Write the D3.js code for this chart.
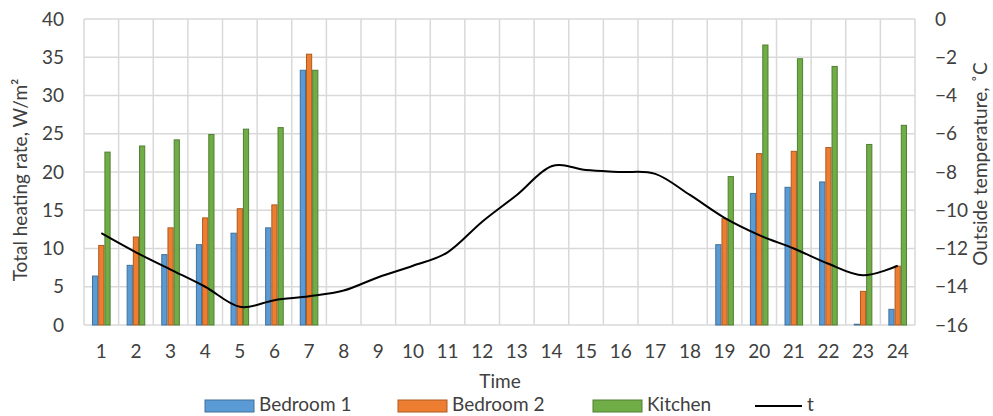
<!DOCTYPE html>
<html><head><meta charset="utf-8">
<script src="https://cdn.jsdelivr.net/npm/d3@7"></script>
<style>
body{margin:0;background:#fff;}
text{font-family:Lato,"Open Sans",sans-serif;fill:#404040;}
</style></head>
<body><svg id="c" width="993" height="416"></svg>
<script>
const hours = d3.range(1,25).map(String);
const bedroom1 = [6.4,7.8,9.2,10.5,12.0,12.7,33.3,0,0,0,0,0,0,0,0,0,0,0,10.5,17.2,18.0,18.7,0.1,2.05];
const bedroom2 = [10.4,11.5,12.7,14.0,15.2,15.7,35.4,0,0,0,0,0,0,0,0,0,0,0,13.9,22.4,22.7,23.2,4.4,7.7];
const kitchen  = [22.6,23.4,24.2,24.9,25.6,25.8,33.3,0,0,0,0,0,0,0,0,0,0,0,19.4,36.6,34.8,33.8,23.6,26.1];
const tOut = [-11.2,-12.2,-13.1,-14.0,-15.05,-14.7,-14.5,-14.2,-13.5,-12.9,-12.2,-10.6,-9.2,-7.7,-7.9,-8.0,-8.1,-9.2,-10.4,-11.3,-12.0,-12.8,-13.4,-12.9];
const leftTicks = [0,5,10,15,20,25,30,35,40];
const rightTicks = [0,-2,-4,-6,-8,-10,-12,-14,-16];
const seriesNames = ["Bedroom 1","Bedroom 2","Kitchen"];
const seriesData = [bedroom1,bedroom2,kitchen];
const fills = ["#5b9bd5","#ed7d31","#70ad47"];
const strokes = ["#41719c","#ae5a21","#507e32"];

const svg = d3.select("#c");
const L=84, R=915, T=19, B=325;
const x = d3.scaleBand().domain(hours).range([L,R]).padding(0);
const xs = d3.scaleBand().domain(d3.range(3)).range([0,18.6]);
const y = d3.scaleLinear().domain([0,40]).range([B,T]);
const y2 = d3.scaleLinear().domain([-16,0]).range([B,T]);

// gridlines
const g = svg.append("g");
g.selectAll("line.h").data(leftTicks).join("line")
 .attr("x1",L).attr("x2",R).attr("y1",d=>y(d)).attr("y2",d=>y(d))
 .attr("stroke","#d9d9d9").attr("stroke-width",1.5);
const bounds = hours.map(h=>x(h)).concat([R]);
g.selectAll("line.v").data(bounds).join("line")
 .attr("x1",d=>d).attr("x2",d=>d).attr("y1",T).attr("y2",B)
 .attr("stroke","#d9d9d9").attr("stroke-width",1.5);

// bars
seriesData.forEach((arr,si)=>{
  svg.append("g").selectAll("rect").data(arr.map((v,i)=>({v,h:hours[i]})).filter(d=>d.v>0)).join("rect")
   .attr("x",d=>x(d.h)+x.bandwidth()/2-9.3+xs(si)+0.5)
   .attr("width",xs.bandwidth()-1)
   .attr("y",d=>y(d.v))
   .attr("height",d=>B-y(d.v))
   .attr("fill",fills[si]).attr("stroke",strokes[si]).attr("stroke-width",1);
});

// line
const line = d3.line().x((d,i)=>x(hours[i])+x.bandwidth()/2).y(d=>y2(d)).curve(d3.curveCatmullRom.alpha(0));
svg.append("path").datum(tOut).attr("d",line).attr("fill","none").attr("stroke","#000").attr("stroke-width",2);

// axes labels
const fs = 19;
const lAxis = d3.axisLeft(y).tickValues(leftTicks).tickSize(0).tickPadding(0);
const la = svg.append("g").attr("transform",`translate(64,0)`).call(lAxis);
const rAxis = d3.axisRight(y2).tickValues(rightTicks).tickSize(0).tickPadding(0);
const ra = svg.append("g").attr("transform",`translate(935,0)`).call(rAxis);
const bAxis = d3.axisBottom(x).tickSize(0).tickPadding(0);
const ba = svg.append("g").attr("transform",`translate(0,${B+19})`).call(bAxis);
[la,ra,ba].forEach(a=>{a.select(".domain").remove(); a.selectAll("text").attr("font-size",fs).attr("font-family","Lato, 'Open Sans', sans-serif").attr("fill","#404040");});

svg.append("text").attr("x",500).attr("y",388).attr("text-anchor","middle").attr("font-size",fs).text("Time");
svg.append("text").attr("transform","translate(27,180) rotate(-90)").attr("text-anchor","middle").attr("font-size",fs).text("Total heating rate, W/m²");
svg.append("text").attr("transform","translate(987,164) rotate(-90)").attr("text-anchor","middle").attr("font-size",fs).text("Outside temperature, ˚C");

// legend
const leg = [{n:seriesNames[0],x:205,i:0},{n:seriesNames[1],x:398,i:1},{n:seriesNames[2],x:593,i:2}];
leg.forEach(d=>{
  svg.append("rect").attr("x",d.x).attr("y",400).attr("width",49).attr("height",12).attr("fill",fills[d.i]).attr("stroke",strokes[d.i]);
  svg.append("text").attr("x",d.x+54).attr("y",411).attr("font-size",fs).text(d.n);
});
svg.append("line").attr("x1",755).attr("x2",802).attr("y1",406).attr("y2",406).attr("stroke","#000").attr("stroke-width",2);
svg.append("text").attr("x",807).attr("y",411).attr("font-size",fs).text("t");
</script></body></html>
